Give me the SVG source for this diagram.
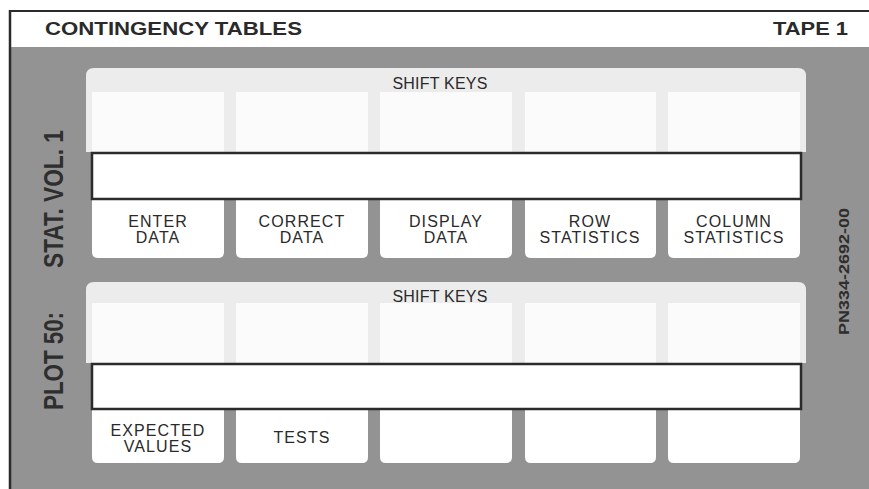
<svg xmlns="http://www.w3.org/2000/svg" width="869" height="489" viewBox="0 0 869 489">
  <style>
    .body { fill: #939393; }
    .panel { fill: #ececec; }
    .shiftkey { fill: #fbfbfb; }
    .bar { fill: #ffffff; stroke: #2b2b2b; stroke-width: 2.5; }
    .key { fill: #ffffff; }
    .lbl { font-family: "Liberation Sans", Arial, sans-serif; font-size: 16px; fill: #2a2a2a; text-anchor: middle; letter-spacing: 1.1px; }
    .shift { font-family: "Liberation Sans", Arial, sans-serif; font-size: 16px; fill: #2a2a2a; text-anchor: middle; letter-spacing: 0.2px; }
    .title { font-family: "Liberation Sans", Arial, sans-serif; font-weight: bold; font-size: 18px; fill: #2a2a2a; }
    .side { font-family: "Liberation Sans", Arial, sans-serif; font-weight: bold; fill: #2e2e2e; }
  </style>

  <!-- card body and header strip -->
  <rect x="0" y="0" width="869" height="489" fill="#ffffff"/>
  <rect class="body" x="10" y="47" width="859" height="442"/>
  <line x1="10" y1="11" x2="869" y2="11" stroke="#2b2b2b" stroke-width="2"/>
  <line x1="10" y1="10" x2="10" y2="489" stroke="#2b2b2b" stroke-width="2.5"/>

  <g id="header">
    <text class="title" x="45" y="35" textLength="257" lengthAdjust="spacingAndGlyphs">CONTINGENCY TABLES</text>
    <text class="title" x="848" y="35" text-anchor="end" textLength="75" lengthAdjust="spacingAndGlyphs">TAPE 1</text>
  </g>

  <g id="side-labels">
    <text class="side" font-size="27" transform="translate(63,268) rotate(-90)" textLength="138" lengthAdjust="spacingAndGlyphs">STAT. VOL. 1</text>
    <text class="side" font-size="27" transform="translate(63,410) rotate(-90)" textLength="98" lengthAdjust="spacingAndGlyphs">PLOT 50:</text>
    <text class="side" font-size="14" transform="translate(849,335) rotate(-90)" textLength="127" lengthAdjust="spacingAndGlyphs">PN334-2692-00</text>
  </g>

  <!-- upper keyboard row -->
  <g id="upper-panel">
    <path class="panel" d="M86,152 V76 Q86,68 94,68 H798 Q806,68 806,76 V152 Z"/>
    <text class="shift" x="440" y="89">SHIFT KEYS</text>
    <rect class="shiftkey" x="92" y="92" width="132" height="61"/>
    <rect class="shiftkey" x="236" y="92" width="132" height="61"/>
    <rect class="shiftkey" x="380" y="92" width="132" height="61"/>
    <rect class="shiftkey" x="525" y="92" width="131" height="61"/>
    <rect class="shiftkey" x="668" y="92" width="132" height="61"/>
  </g>
  <g id="upper-keys">
    <path class="key" d="M92,198 H224 V252 Q224,258 218,258 H98 Q92,258 92,252 Z"/>
    <path class="key" d="M236,198 H368 V252 Q368,258 362,258 H242 Q236,258 236,252 Z"/>
    <path class="key" d="M380,198 H512 V252 Q512,258 506,258 H386 Q380,258 380,252 Z"/>
    <path class="key" d="M525,198 H656 V252 Q656,258 650,258 H531 Q525,258 525,252 Z"/>
    <path class="key" d="M668,198 H800 V252 Q800,258 794,258 H674 Q668,258 668,252 Z"/>
    <text class="lbl" x="158" y="227">ENTER</text>
    <text class="lbl" x="158" y="243">DATA</text>
    <text class="lbl" x="302" y="227">CORRECT</text>
    <text class="lbl" x="302" y="243">DATA</text>
    <text class="lbl" x="446" y="227">DISPLAY</text>
    <text class="lbl" x="446" y="243">DATA</text>
    <text class="lbl" x="590" y="227">ROW</text>
    <text class="lbl" x="590" y="243">STATISTICS</text>
    <text class="lbl" x="734" y="227">COLUMN</text>
    <text class="lbl" x="734" y="243">STATISTICS</text>
  </g>
  <rect id="upper-bar" class="bar" x="92" y="153" width="709" height="46"/>

  <!-- lower keyboard row -->
  <g id="lower-panel">
    <path class="panel" d="M86,363 V290 Q86,282 94,282 H798 Q806,282 806,290 V363 Z"/>
    <text class="shift" x="440" y="302">SHIFT KEYS</text>
    <rect class="shiftkey" x="92" y="303" width="132" height="61"/>
    <rect class="shiftkey" x="236" y="303" width="132" height="61"/>
    <rect class="shiftkey" x="380" y="303" width="132" height="61"/>
    <rect class="shiftkey" x="525" y="303" width="131" height="61"/>
    <rect class="shiftkey" x="668" y="303" width="132" height="61"/>
  </g>
  <g id="lower-keys">
    <path class="key" d="M92,408 H224 V457 Q224,463 218,463 H98 Q92,463 92,457 Z"/>
    <path class="key" d="M236,408 H368 V457 Q368,463 362,463 H242 Q236,463 236,457 Z"/>
    <path class="key" d="M380,408 H512 V457 Q512,463 506,463 H386 Q380,463 380,457 Z"/>
    <path class="key" d="M525,408 H656 V457 Q656,463 650,463 H531 Q525,463 525,457 Z"/>
    <path class="key" d="M668,408 H800 V457 Q800,463 794,463 H674 Q668,463 668,457 Z"/>
    <text class="lbl" x="158" y="436">EXPECTED</text>
    <text class="lbl" x="158" y="452">VALUES</text>
    <text class="lbl" x="302" y="443">TESTS</text>
  </g>
  <rect id="lower-bar" class="bar" x="92" y="364" width="709" height="45"/>
</svg>
